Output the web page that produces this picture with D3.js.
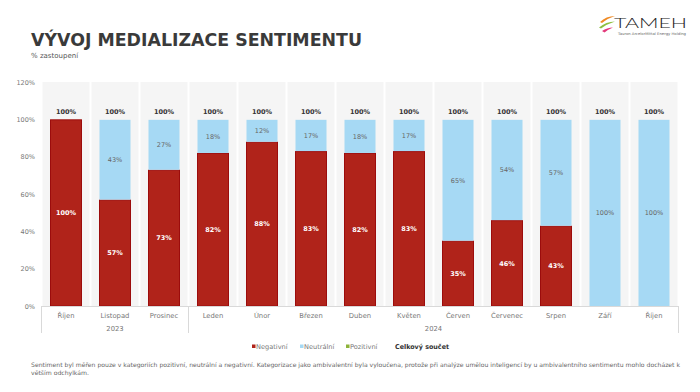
<!DOCTYPE html>
<html><head><meta charset="utf-8">
<script src="https://cdn.jsdelivr.net/npm/d3@7"></script>
<style>
html,body{margin:0;padding:0;background:#fff;}
svg{display:block;font-family:"DejaVu Sans","Open Sans",sans-serif;}
</style></head>
<body>
<svg id="c" width="700" height="392"></svg>
<script>
const months = ["Říjen","Listopad","Prosinec","Leden","Únor","Březen","Duben","Květen","Červen","Červenec","Srpen","Září","Říjen"];
const years = [{label:"2023", from:0, to:2},{label:"2024", from:3, to:12}];
const negativni = [100,57,73,82,88,83,82,83,35,46,43,0,0];
const neutralni = [0,43,27,18,12,17,18,17,65,54,57,100,100];
const pozitivni = [0,0,0,0,0,0,0,0,0,0,0,0,0];
const celkem = [100,100,100,100,100,100,100,100,100,100,100,100,100];
const yTicks = [0,20,40,60,80,100,120];

const colNeg = "#b0231a", colNegStroke = "#9c0c0c", colNeu = "#a6d9f4", colPos = "#8db33a";

const svg = d3.select("#c");
const idx = months.map((m,i)=>i);
const x = d3.scaleBand().domain(idx).range([41.5, 678.5]).paddingInner(0).paddingOuter(0);
const y = d3.scaleLinear().domain([0,120]).range([306, 82]);
const step = x.bandwidth();
const barW = 32;

// title
svg.append("text").attr("x",31).attr("y",46).attr("font-size",18).attr("font-weight",700)
  .attr("font-family","'DejaVu Sans',sans-serif")
  .attr("fill","#3a3a3a").attr("textLength",331).attr("lengthAdjust","spacingAndGlyphs").text("VÝVOJ MEDIALIZACE SENTIMENTU");
svg.append("text").attr("x",31).attr("y",58).attr("font-size",7).attr("fill","#555").text("% zastoupení");

// logo
const logo = svg.append("g").attr("transform","translate(599,15)");
logo.append("path").attr("d","M1,7 Q7,1 16,1 Q8,3.5 3,8 Z").attr("fill","#f08a24");
logo.append("path").attr("d","M0,12.5 Q7,6.5 16,6.5 Q8,9 2,13.5 Z").attr("fill","#8cbf3f");
logo.append("path").attr("d","M3,16 Q8,12.5 14,12.5 Q9,14.5 5.5,17.5 Z").attr("fill","#e3387a");
logo.append("text").attr("x",15).attr("y",12.5).attr("font-size",14).attr("font-weight",300)
  .attr("textLength",73).attr("lengthAdjust","spacingAndGlyphs")
  .attr("fill","#222").attr("font-family","Lato, sans-serif").text("TAMEH");
logo.append("text").attr("x",19).attr("y",19.5).attr("font-size",3.6).attr("fill","#666")
  .attr("textLength",68).attr("lengthAdjust","spacingAndGlyphs").text("Tauron ArcelorMittal Energy Holding");

// background columns
svg.append("g").selectAll("rect").data(idx).join("rect")
  .attr("x",d=>x(d)+1).attr("width",step-2).attr("y",y(120)).attr("height",y(0)-y(120)).attr("fill","#f5f5f5");

// y axis labels
svg.append("g").selectAll("text").data(yTicks).join("text")
  .attr("x",35).attr("y",d=>y(d)+2.5).attr("text-anchor","end").attr("font-size",6.5).attr("fill","#777")
  .text(d=>d+"%");

// bars
const stack = d3.stack().keys(["neg","neu","pos"])(idx.map(i=>({neg:negativni[i],neu:neutralni[i],pos:pozitivni[i]})));
const colors = {neg:colNeg, neu:colNeu, pos:colPos};
const strokes = {neg:colNegStroke, neu:"none", pos:"none"};
stack.forEach(layer=>{
  svg.append("g").selectAll("rect").data(layer.map((d,i)=>({d,i}))).join("rect")
    .filter(o=>o.d[1]-o.d[0]>0)
    .attr("x",o=>x(o.i)+(step-barW)/2+0.5).attr("width",barW-1)
    .attr("y",o=>y(o.d[1])+0.5).attr("height",o=>y(o.d[0])-y(o.d[1])-0.5)
    .attr("fill",colors[layer.key]).attr("stroke",strokes[layer.key]).attr("stroke-width",1);
});

// segment labels
stack.forEach(layer=>{
  svg.append("g").selectAll("text").data(layer.map((d,i)=>({d,i}))).join("text")
    .filter(o=>o.d[1]-o.d[0]>0)
    .attr("x",o=>x(o.i)+step/2).attr("y",o=>y((o.d[0]+o.d[1])/2)+2.5)
    .attr("text-anchor","middle").attr("font-size",6.5)
    .attr("font-weight",layer.key==="neg"?700:400)
    .attr("fill",layer.key==="neg"?"#fff":"#666")
    .text(o=>Math.round(o.d[1]-o.d[0])+"%");
});

// totals
svg.append("g").selectAll("text").data(celkem).join("text")
  .attr("x",(d,i)=>x(i)+step/2).attr("y",d=>y(d)-5).attr("text-anchor","middle")
  .attr("font-size",6.5).attr("font-weight",700).attr("fill","#333").text(d=>d+"%");

// x axis
const ax = svg.append("g").attr("stroke","#d9d9d9").attr("stroke-width",1);
ax.append("line").attr("x1",x.range()[0]).attr("x2",x.range()[1]).attr("y1",306.5).attr("y2",306.5);
[0,3,13].forEach(k=>{
  const xx = k<13 ? x(k) : x.range()[1];
  ax.append("line").attr("x1",xx).attr("x2",xx).attr("y1",306).attr("y2",333);
});
svg.append("g").selectAll("text").data(idx).join("text")
  .attr("x",i=>x(i)+step/2).attr("y",318).attr("text-anchor","middle").attr("font-size",6.8).attr("fill","#777")
  .text(i=>months[i]);
svg.append("g").selectAll("text").data(years).join("text")
  .attr("x",d=>(x(d.from)+x(d.to)+step)/2).attr("y",331).attr("text-anchor","middle").attr("font-size",6.8).attr("fill","#777")
  .text(d=>d.label);

// legend
const leg = svg.append("g").attr("font-size",6.6);
const items = [{t:"Negativní",c:colNeg,x:252},{t:"Neutrální",c:colNeu,x:300},{t:"Pozitivní",c:colPos,x:346}];
items.forEach(it=>{
  leg.append("rect").attr("x",it.x).attr("y",344.5).attr("width",3.5).attr("height",3.5).attr("fill",it.c);
  leg.append("text").attr("x",it.x+4).attr("y",349).attr("fill","#777").text(it.t);
});
leg.append("text").attr("x",395).attr("y",349).attr("font-weight",700).attr("fill","#333")
  .attr("textLength",54).attr("lengthAdjust","spacingAndGlyphs").text("Celkový součet");

// footnote
const fn = svg.append("g").attr("font-size",6).attr("fill","#666");
fn.append("text").attr("x",31).attr("y",367).attr("textLength",649).attr("lengthAdjust","spacingAndGlyphs")
  .text("Sentiment byl měřen pouze v kategoriích pozitivní, neutrální a negativní. Kategorizace jako ambivalentní byla vyloučena, protože při analýze umělou inteligencí by u ambivalentního sentimentu mohlo docházet k");
fn.append("text").attr("x",31).attr("y",374.5).attr("textLength",58).attr("lengthAdjust","spacingAndGlyphs").text("větším odchylkám.");
</script>
</body></html>
